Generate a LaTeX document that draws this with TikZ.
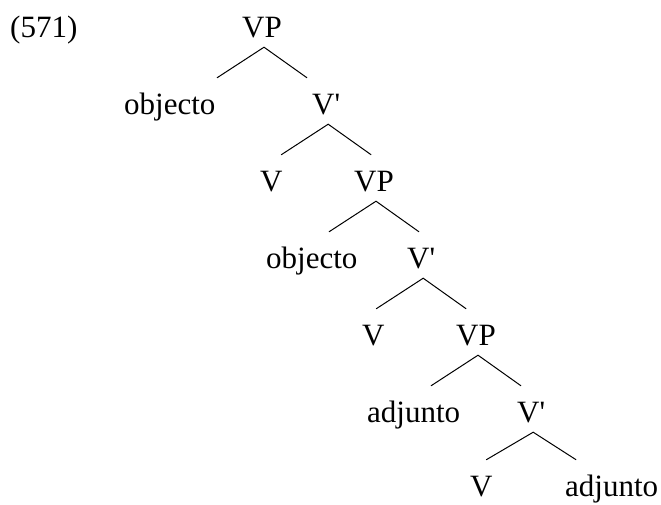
\documentclass[tikz,border=0pt]{standalone}
\usepackage{fontspec}
\setmainfont{Liberation Serif}
\begin{document}
\begin{tikzpicture}[x = 1pt, y = -1pt, font = \fontsize{31}{37}\selectfont,
	lbl/.style = {anchor = base west, inner xsep = 0pt, inner ysep = 10pt, text height = 26pt, text depth = 0pt},
	branch/.style = {line width = 1pt}]
	
		\useasboundingbox (0, 0) rectangle (661, 504);
		
		\node[lbl] (ex) at (10, 37) {(571)};
		\node[lbl] (vpa) at (242, 37) {VP};
		\node[lbl] (obja) at (124, 114) {objecto};
		\node[lbl] (vbara) at (312, 114) {V\textquotesingle};
		\node[lbl] (va) at (260, 191) {V};
		\node[lbl] (vpb) at (354, 191) {VP};
		\node[lbl] (objb) at (266, 268) {objecto};
		\node[lbl] (vbarb) at (407, 268) {V\textquotesingle};
		\node[lbl] (vb) at (362, 345) {V};
		\node[lbl] (vpc) at (456, 345) {VP};
		\node[lbl] (adja) at (367, 422) {adjunto};
		\node[lbl] (vbarc) at (517, 422) {V\textquotesingle};
		\node[lbl] (vc) at (470, 496) {V};
		\node[lbl] (adjb) at (565, 496) {adjunto};
		
		\foreach \p/\l/\r in {vpa/obja/vbara, vbara/va/vpb, vpb/objb/vbarb, vbarb/vb/vpc, vpc/adja/vbarc, vbarc/vc/adjb}
			\draw[branch] ([xshift = -45pt]\p.south |- \l.north) -- ([xshift = 2pt]\p.south) -- ([xshift = 45pt]\p.south |- \r.north);
		
	\end{tikzpicture}
\end{document}
